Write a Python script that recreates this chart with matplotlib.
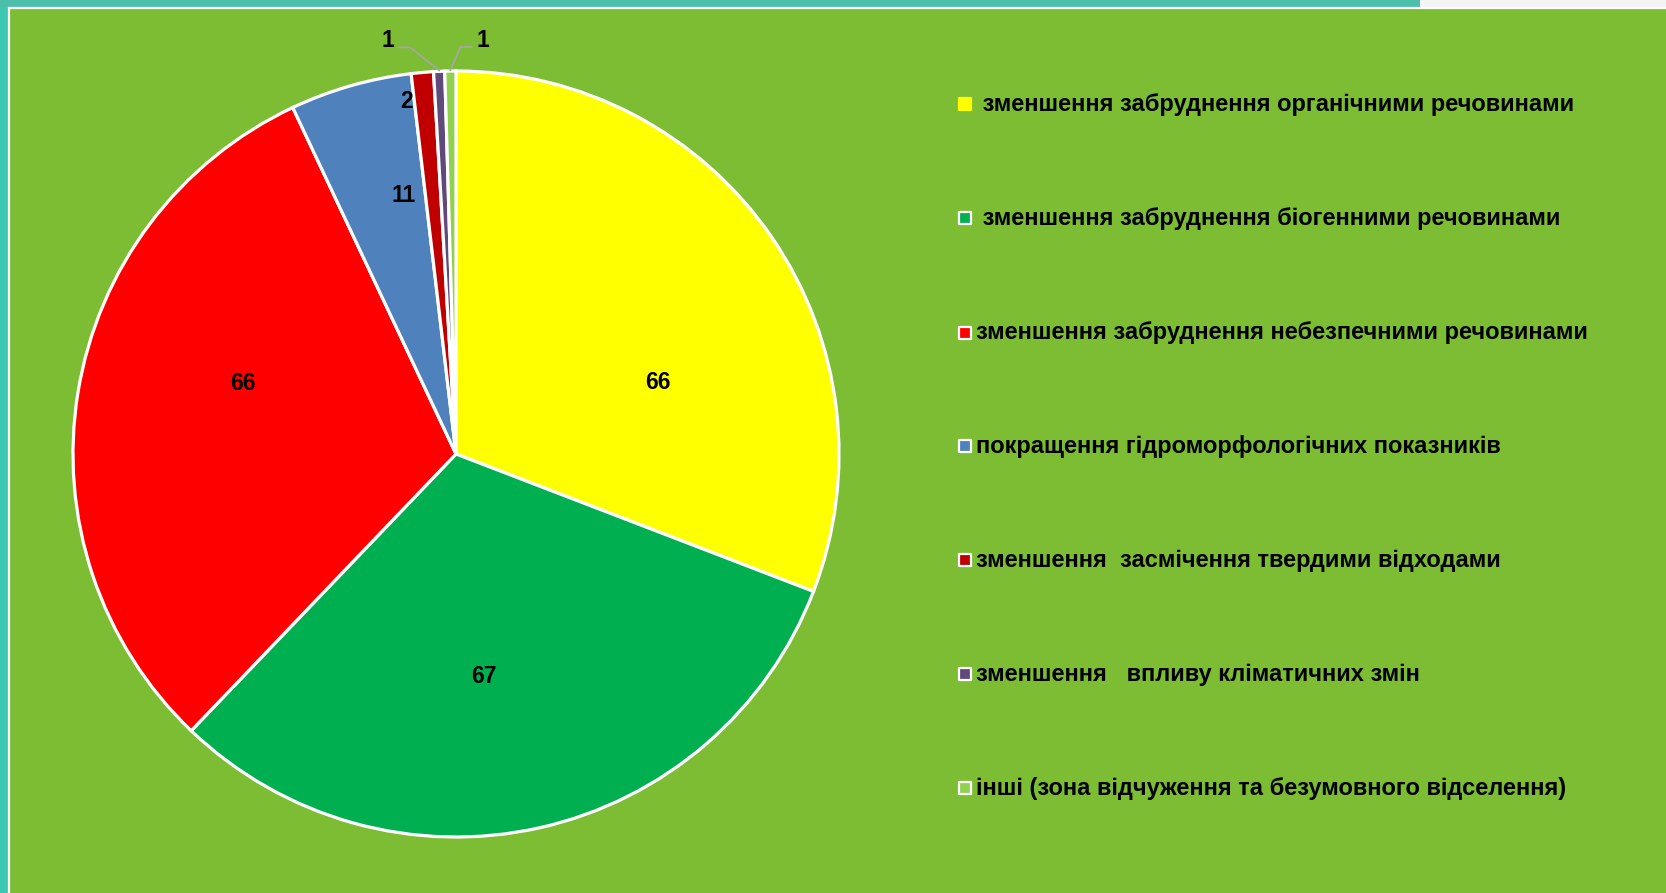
import numpy as np
import matplotlib
matplotlib.use("Agg")
import matplotlib.pyplot as plt
from matplotlib.patches import Rectangle

labels = [
    " зменшення забруднення органічними речовинами",
    " зменшення забруднення біогенними речовинами",
    "зменшення забруднення небезпечними речовинами",
    "покращення гідроморфологічних показників",
    "зменшення  засмічення твердими відходами",
    "зменшення   впливу кліматичних змін",
    "інші (зона відчуження та безумовного відселення)",
]
values = [66, 67, 66, 11, 2, 1, 1]
colors = ["#ffff00", "#00b050", "#ff0000", "#4f81bd", "#c00000", "#604a7b", "#92d050"]

W, H = 1666, 893
BG = "#7cbd33"
FONT = ["Liberation Sans", "DejaVu Sans"]

fig = plt.figure(figsize=(W / 100, H / 100), dpi=100)
fig.patch.set_facecolor("#f4f4f4")
ax = fig.add_axes([0, 0, 1, 1])

# slide background: teal strip + green panel with white border
ax.add_patch(Rectangle((0, 0), 9, H, facecolor="#3cc7b0", edgecolor="none", zorder=0))
ax.add_patch(Rectangle((0, H - 7), 1420, 7, facecolor="#4bbfaa", edgecolor="none", zorder=0))
ax.add_patch(Rectangle((9, -5), W, H - 7 + 5 - 0.5, facecolor=BG, edgecolor="white",
                       linewidth=1.6, zorder=0.5))

cx, cy, R = 456, H - 454, 383
wedges, _ = ax.pie(values, colors=colors, startangle=90, counterclock=False,
                   center=(cx, cy), radius=R,
                   wedgeprops=dict(edgecolor="white", linewidth=2.3))
for w in wedges:
    w.set_zorder(2)
ax.set_xlim(0, W)
ax.set_ylim(0, H)
ax.set_aspect("equal")
ax.axis("off")

# label placement: (angle offset from wedge middle in deg, radius fraction)
label_pos = [(-15, 0.56), (-5.5, 0.585), (-9, 0.585), (-4.5, 0.69), (3, 0.93)]
for w, v, (da, rf) in zip(wedges, values, label_pos):
    mid = np.deg2rad((w.theta1 + w.theta2) / 2 + da)
    ax.text(cx + rf * R * np.cos(mid), cy + rf * R * np.sin(mid), str(v),
            ha="center", va="center", fontsize=16.5, fontweight="bold",
            family=FONT, zorder=3)

# the two tiny slices get outside labels with leader lines
for w, v, side in zip(wedges[5:], values[5:], (-1, 1)):
    mid = np.deg2rad((w.theta1 + w.theta2) / 2)
    x0, y0 = cx + R * np.cos(mid), cy + R * np.sin(mid) + 1
    x1, y1 = x0 + side * 10 - 19 * (side < 0), y0 + 23
    x2 = x1 + side * 11
    ax.plot([x0, x1, x2], [y0, y1, y1], color="#a6a6a6", linewidth=1.3, zorder=3)
    ax.text(x2 + side * 11, y1 + 7, str(v), ha="center", va="center",
            fontsize=16.5, fontweight="bold", family=FONT, zorder=3)

# legend
row_y = [104, 218, 333, 446, 560, 674, 788]
for lab, c, yy, i in zip(labels, colors, row_y, range(len(labels))):
    y = H - yy
    ax.scatter([965], [y], marker="s", s=68, color=c,
               edgecolor=c if i == 0 else "white", linewidth=1.6, zorder=3)
    ax.text(976, y, lab, ha="left", va="center", fontsize=17, fontweight="bold",
            family=FONT, zorder=3)

fig.savefig("out.png", dpi=100, facecolor=fig.get_facecolor())
